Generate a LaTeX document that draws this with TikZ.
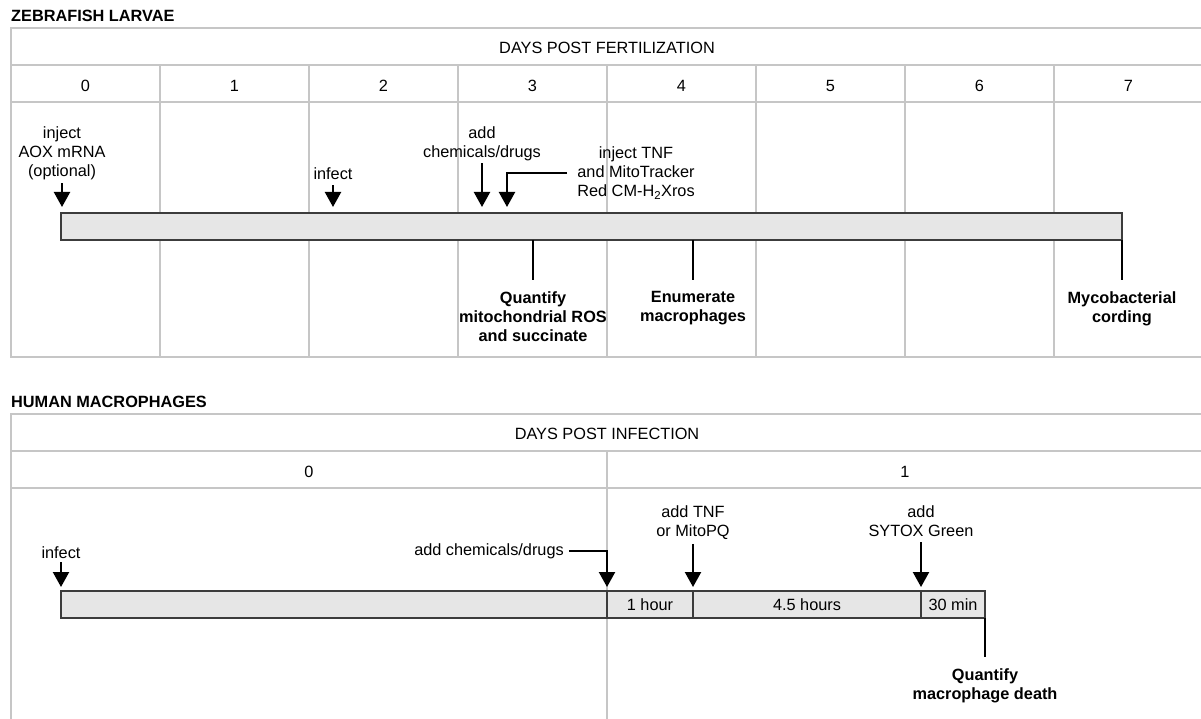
\documentclass[tikz,border=0pt]{standalone}
\usepackage{fontspec}
\setmainfont{Liberation Sans}
\usetikzlibrary{arrows.meta, positioning}
\definecolor{gridgray}{HTML}{C6C6C6}
\definecolor{barfill}{HTML}{E6E6E6}
\definecolor{bardraw}{HTML}{3C3C3C}

\begin{document}
\begin{tikzpicture}[x=1pt, y=-1pt,
  grid/.style={draw=gridgray, line width=1.3pt},
  bar/.style={draw=bardraw, fill=barfill, line width=1.2pt, inner sep=0pt, outer sep=0pt},
  segline/.style={draw=bardraw, line width=1.2pt},
  lbl/.style={font=\fontsize{16.3}{19}\selectfont, align=center, inner sep=0pt},
  res/.style={font=\fontsize{16.3}{19}\selectfont\bfseries, align=center, inner sep=0pt},
  ttl/.style={font=\fontsize{16.3}{19}\selectfont\bfseries, inner sep=0pt, anchor=base west},
  arr/.style={-{Triangle[width=16pt, length=15pt]}, line width=2.2pt},
  tick/.style={line width=2.2pt}]
  \useasboundingbox (0,0) rectangle (1201,719);
  \clip (0,0) rectangle (1201,719);

  % Zebrafish larvae table
  \node[ttl] (ztitle) at (11,22) {ZEBRAFISH LARVAE};
  \draw[grid] (11,28) rectangle (1204,357);
  \draw[grid] (11,65) -- (1204,65) (11,102) -- (1204,102);
  \foreach \i in {1,...,7}
    \draw[grid] ({11+149*\i},65) -- ({11+149*\i},357);
  \node[lbl, anchor=base] (zhead) at (607,53.3) {DAYS POST FERTILIZATION};
  \foreach \i in {0,...,7}
    \node[lbl, anchor=base] (zd\i) at ({85.5+149*\i},91.7) {\i};

  % Zebrafish timeline bar
  \node[bar, anchor=north west, minimum width=1061pt, minimum height=27pt] (zbar) at (61,213) {};

  % Zebrafish treatments
  \node[lbl, anchor=base] (zaox) at (62,177) {inject\\AOX mRNA\\(optional)};
  \coordinate (zaoxpt) at (62,207);
  \draw[arr] ([yshift=-2.5pt]zaox.south) -- (zaoxpt);

  \node[lbl, anchor=base] (zinf) at (333,180) {infect};
  \coordinate (zinfpt) at (333,207);
  \draw[arr] ([yshift=-5pt]zinf.south) -- (zinfpt);

  \node[lbl, anchor=base] (zchem) at (482,158) {add\\chemicals/drugs};
  \coordinate (zchempt) at (482,207);
  \draw[arr] ([yshift=-1.5pt]zchem.south) -- (zchempt);

  \node[lbl, anchor=base, inner xsep=10pt] (ztnf) at (636,197) {inject TNF\\and MitoTracker\\Red CM-H\textsubscript{2}Xros};
  \coordinate (ztnfpt) at (507,207);
  \draw[arr] (ztnf.west) -| (ztnfpt);

  % Zebrafish readouts
  \node[res, anchor=north] (zros) at (533,291) {Quantify\\mitochondrial ROS\\and succinate};
  \draw[tick] (zbar.south -| zros.north) -- ([yshift=11pt]zros.north);
  \node[res, anchor=north] (zmac) at (693,291) {Enumerate\\macrophages};
  \draw[tick] (zbar.south -| zmac.north) -- ([yshift=11pt]zmac.north);
  \node[res, anchor=north] (zcord) at (1122,291) {Mycobacterial\\cording};
  \draw[tick] (zbar.south -| zcord.north) -- ([yshift=11pt]zcord.north);

  % Human macrophages table
  \node[ttl] (htitle) at (11,407) {HUMAN MACROPHAGES};
  \draw[grid] (11,414) rectangle (1204,722);
  \draw[grid] (11,451) -- (1204,451) (11,488) -- (1204,488);
  \draw[grid] (607,451) -- (607,722);
  \node[lbl, anchor=base] (hhead) at (607,439) {DAYS POST INFECTION};
  \node[lbl, anchor=base] (hd0) at (309,477) {0};
  \node[lbl, anchor=base] (hd1) at (905,477) {1};

  % Human timeline bar
  \node[bar, anchor=north west, minimum width=924pt, minimum height=27pt] (hbar) at (61,591) {};

  % Human treatments
  \node[lbl, anchor=base] (hinf) at (61,558) {infect};
  \coordinate (hinfpt) at (61,587);
  \draw[arr] ([yshift=-4pt]hinf.south) -- (hinfpt);

  \node[lbl, anchor=base, inner xsep=5pt] (hchem) at (489,555) {add chemicals/drugs};
  \coordinate (hchempt) at (607,587);
  \draw[arr] (hchem.east) -| (hchempt);

  \node[lbl, anchor=base] (htnf) at (693,536) {add TNF\\or MitoPQ};
  \coordinate (htnfpt) at (693,587);
  \draw[arr] ([yshift=-4.5pt]htnf.south) -- (htnfpt);

  \node[lbl, anchor=base] (hsytox) at (921,536) {add\\SYTOX Green};
  \coordinate (hsytoxpt) at (921,587);
  \draw[arr] ([yshift=-6pt]hsytox.south) -- (hsytoxpt);

  % Human bar segments
  \foreach \c in {hchempt, htnfpt, hsytoxpt}
    \draw[segline] (\c |- hbar.north) -- (\c |- hbar.south);
  \node[lbl] (hseg1) at (650,604.5) {1 hour};
  \node[lbl] (hseg2) at (807,604.5) {4.5 hours};
  \node[lbl] (hseg3) at (953,604.5) {30 min};

  % Human readout
  \node[res, anchor=north] (hdeath) at (985,668) {Quantify\\macrophage death};
  \draw[tick] (hbar.south -| hdeath.north) -- ([yshift=11pt]hdeath.north);
\end{tikzpicture}
\end{document}
